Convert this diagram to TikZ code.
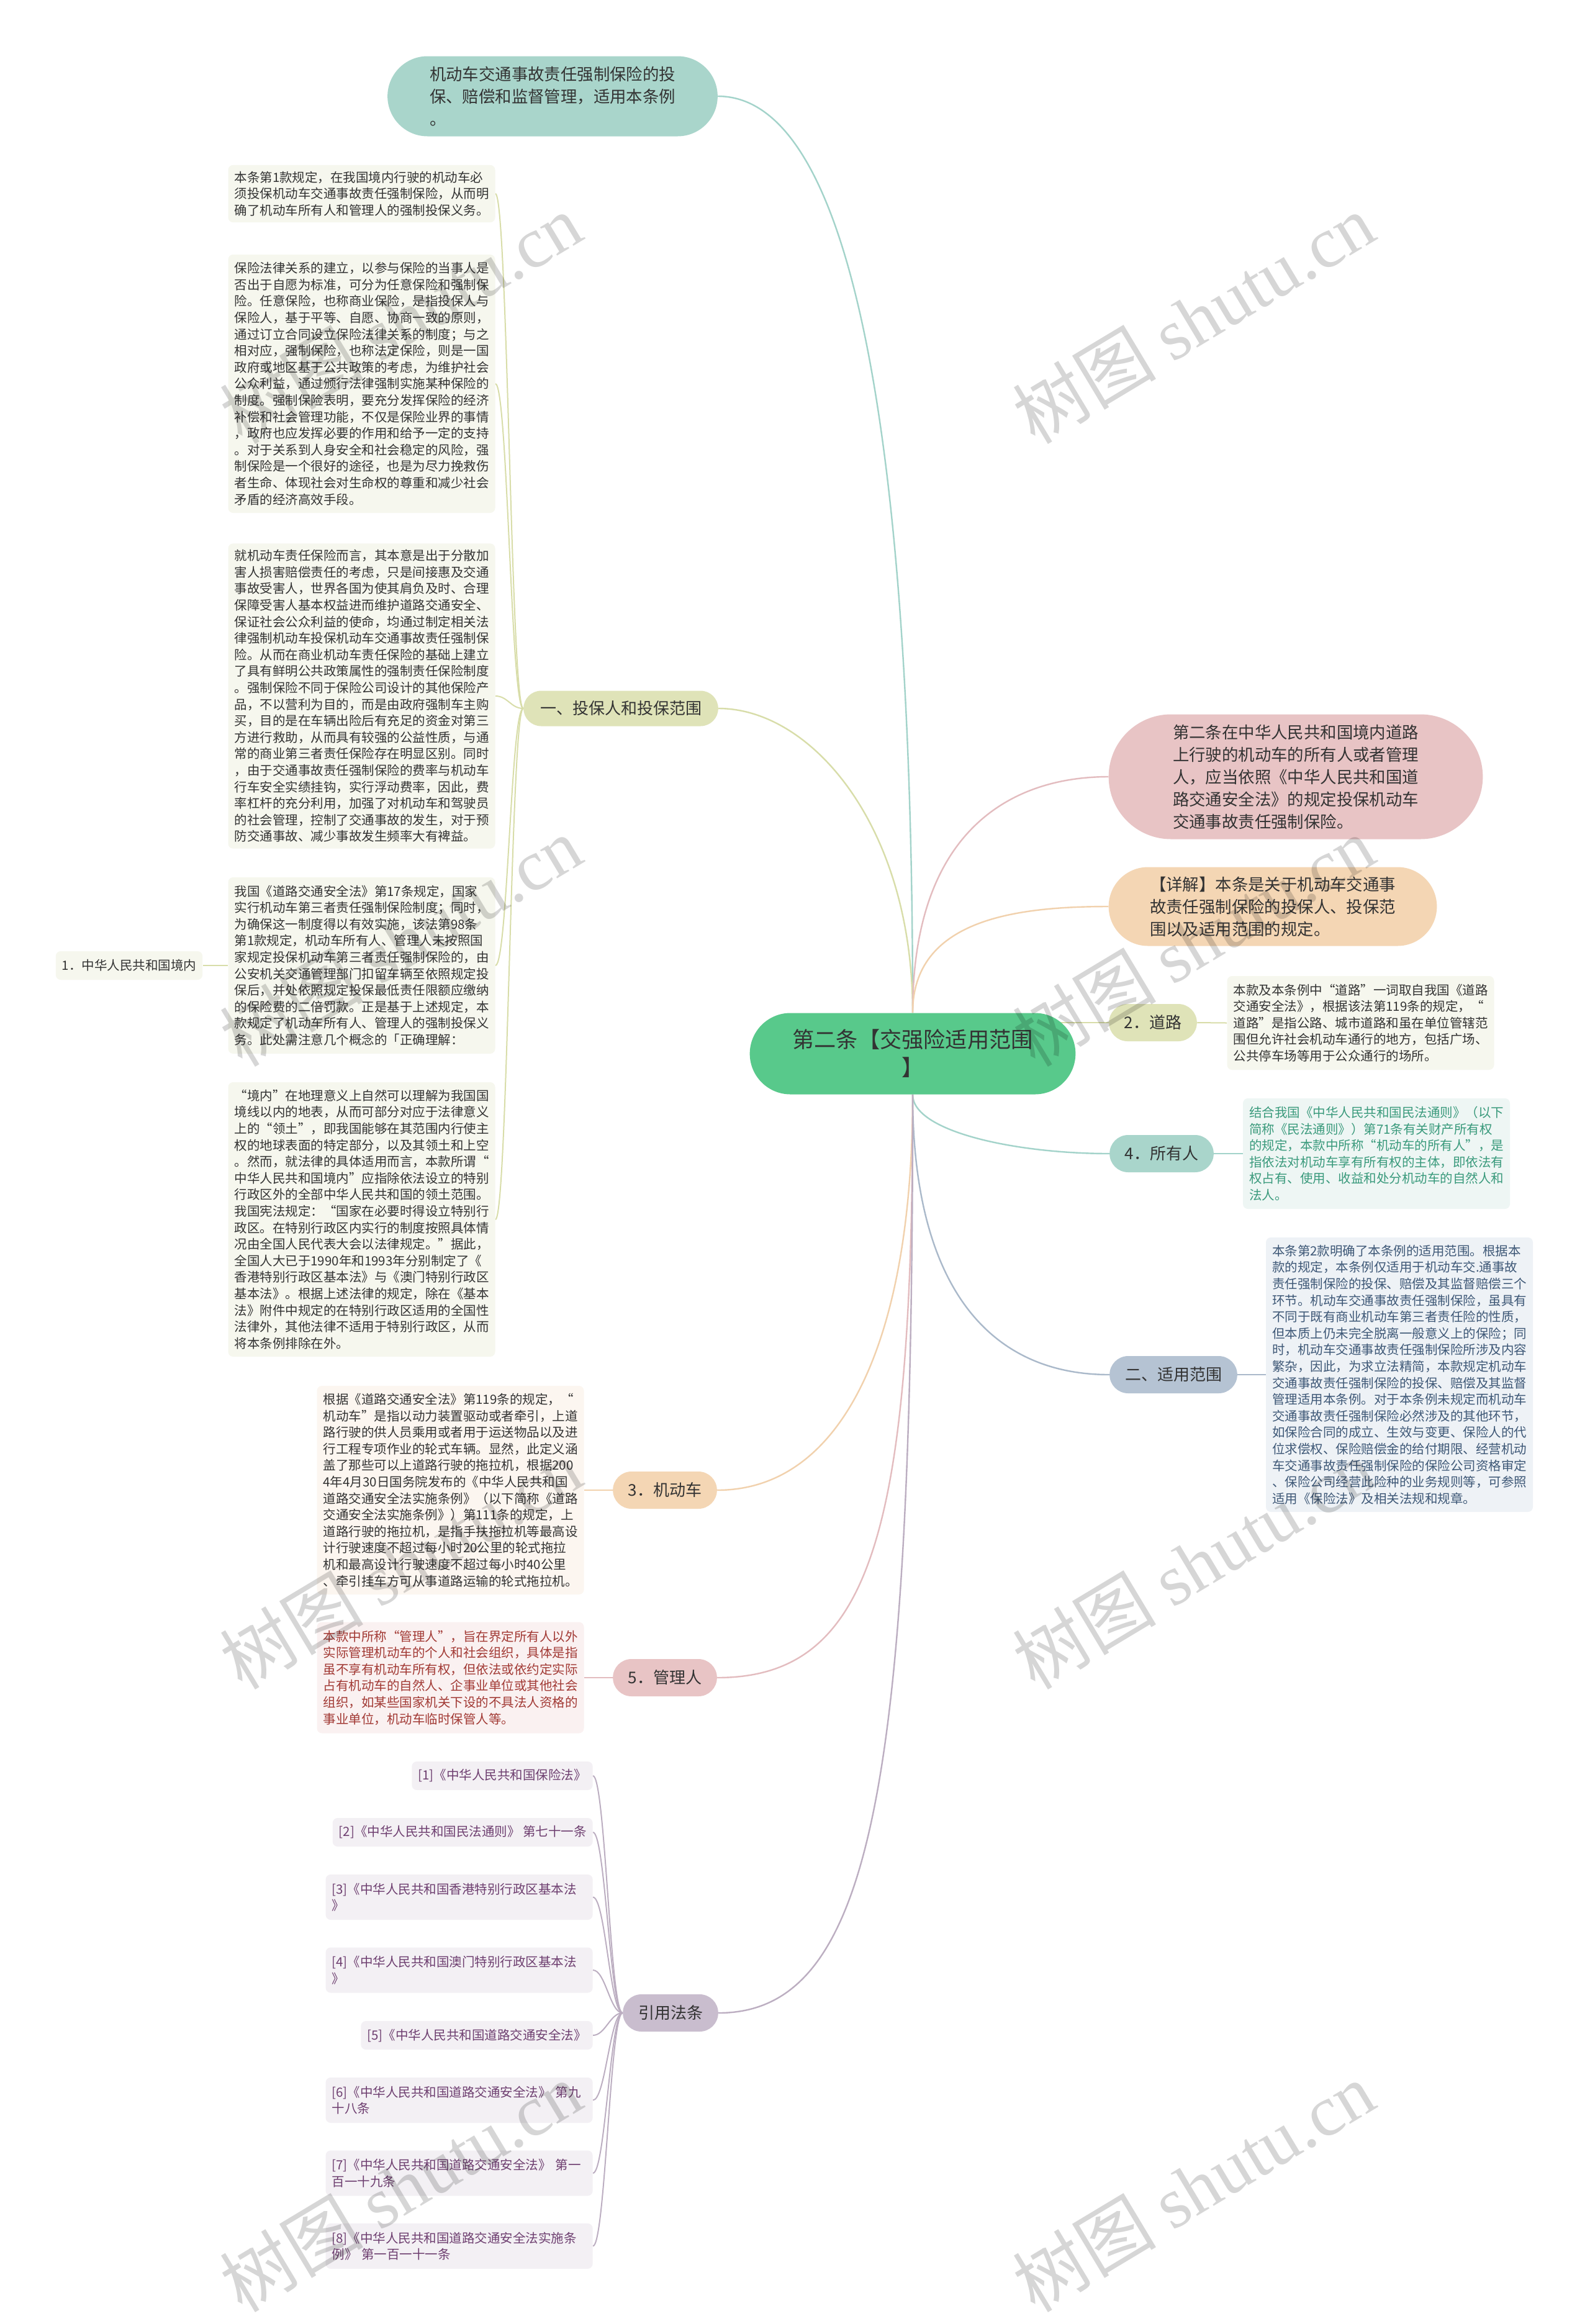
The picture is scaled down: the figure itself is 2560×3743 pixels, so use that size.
\documentclass[tikz,border=0pt]{standalone}
\usepackage{fontspec}
\usepackage{xcolor}
\usetikzlibrary{shapes.misc}
\setmainfont{Noto Sans CJK SC}
\newfontfamily\markfont{Liberation Serif}

\definecolor{rootfill}{HTML}{58C98B}
\definecolor{tealfill}{HTML}{A9D5CB}
\definecolor{olivefill}{HTML}{DFE3B8}
\definecolor{pinkfill}{HTML}{E8C4C5}
\definecolor{peachfill}{HTML}{F4D6B4}
\definecolor{slatefill}{HTML}{B5C3D3}
\definecolor{plumfill}{HTML}{C9BDCE}
\definecolor{olivenote}{HTML}{F6F7EE}
\definecolor{tealnote}{HTML}{EEF6F4}
\definecolor{slatenote}{HTML}{EEF2F6}
\definecolor{peachnote}{HTML}{FCF6F0}
\definecolor{pinknote}{HTML}{FAF1F1}
\definecolor{plumnote}{HTML}{F3F0F4}
\definecolor{tealtext}{HTML}{3A9A7C}
\definecolor{slatetext}{HTML}{3E5877}
\definecolor{pinktext}{HTML}{A23A35}
\definecolor{plumtext}{HTML}{6E3F70}
\definecolor{darktext}{HTML}{333333}
\definecolor{tealline}{HTML}{A3D3CA}
\definecolor{oliveline}{HTML}{D8DDA9}
\definecolor{pinkline}{HTML}{E3BCBF}
\definecolor{peachline}{HTML}{F1D1AD}
\definecolor{slateline}{HTML}{AAB9CA}
\definecolor{plumline}{HTML}{BCAEC1}

\pgfdeclarelayer{back}
\pgfsetlayers{back,main}

\tikzset{
    root-topic/.style = {rounded rectangle, fill=rootfill, text=darktext, align=center, font=\fontsize{17.6}{22.5}\selectfont, minimum width=269pt, minimum height=65.5pt},
    main-topic/.style = {rounded rectangle, text=darktext, align=left, font=\fontsize{13.2}{18}\selectfont},
    sub-topic/.style = {rounded rectangle, text=darktext, font=\fontsize{13}{16}\selectfont, minimum height=30pt},
    note-box/.style = {rectangle, rounded corners=4pt, text=darktext, align=left, inner xsep=5pt, inner ysep=5pt, font=\fontsize{10.25}{13.3}\selectfont},
    wide-note/.style = {note-box, text width=205pt},
    link-line/.style = {line width=1.2pt},
    twig-line/.style = {line width=1pt},
    water-mark/.style = {text=black, text opacity=0.16, rotate=31, font=\fontsize{58}{60}\selectfont},
}

\begin{document}
\begin{tikzpicture}[x=0.5pt, y=-0.5pt]
\useasboundingbox (0,0) rectangle (2560,3743);

\node[root-topic] (root) at (1470,1697) {第二条【交强险适用范围\\】};

\node[main-topic, fill=tealfill, minimum width=272.5pt, minimum height=64.5pt] (rule) at (890,155) {机动车交通事故责任强制保险的投\\
保、赔偿和监督管理，适用本条例\\
。};
\node[main-topic, fill=pinkfill, minimum width=308pt, minimum height=100.5pt] (article) at (2087,1251) {第二条在中华人民共和国境内道路\\
上行驶的机动车的所有人或者管理\\
人，应当依照《中华人民共和国道\\
路交通安全法》的规定投保机动车\\
交通事故责任强制保险。};
\node[main-topic, fill=peachfill, minimum width=271pt, minimum height=63.5pt] (detail) at (2050,1460) {【详解】本条是关于机动车交通事\\
故责任强制保险的投保人、投保范\\
围以及适用范围的规定。};

\node[sub-topic, fill=olivefill, minimum width=163.5pt, minimum height=28.5pt] (insure) at (1000,1141) {一、投保人和投保范围};
\node[sub-topic, fill=olivefill, minimum width=77.5pt] (road) at (1857,1647) {2．道路};
\node[sub-topic, fill=tealfill, minimum width=90.5pt] (owner) at (1871,1858) {4．所有人};
\node[sub-topic, fill=slatefill, minimum width=109.5pt] (scope) at (1890,2214) {二、适用范围};
\node[sub-topic, fill=peachfill, minimum width=90.5pt] (vehicle) at (1071,2400) {3．机动车};
\node[sub-topic, fill=pinkfill, minimum width=90.5pt] (keeper) at (1071,2702) {5．管理人};
\node[sub-topic, fill=plumfill, minimum width=83.5pt] (cite) at (1080,3242) {引用法条};

\node[wide-note, fill=olivenote, minimum height=46pt] (note-a) at (582.5,312) {本条第1款规定，在我国境内行驶的机动车必\\
须投保机动车交通事故责任强制保险，从而明\\
确了机动车所有人和管理人的强制投保义务。};
\node[wide-note, fill=olivenote, minimum height=208pt] (note-b) at (582.5,618) {保险法律关系的建立，以参与保险的当事人是\\
否出于自愿为标准，可分为任意保险和强制保\\
险。任意保险，也称商业保险，是指投保人与\\
保险人，基于平等、自愿、协商一致的原则，\\
通过订立合同设立保险法律关系的制度；与之\\
相对应，强制保险，也称法定保险，则是一国\\
政府或地区基于公共政策的考虑，为维护社会\\
公众利益，通过颁行法律强制实施某种保险的\\
制度。强制保险表明，要充分发挥保险的经济\\
补偿和社会管理功能，不仅是保险业界的事情\\
，政府也应发挥必要的作用和给予一定的支持\\
。对于关系到人身安全和社会稳定的风险，强\\
制保险是一个很好的途径，也是为尽力挽救伤\\
者生命、体现社会对生命权的尊重和减少社会\\
矛盾的经济高效手段。};
\node[wide-note, fill=olivenote, minimum height=245pt] (note-c) at (582.5,1121) {就机动车责任保险而言，其本意是出于分散加\\
害人损害赔偿责任的考虑，只是间接惠及交通\\
事故受害人，世界各国为使其肩负及时、合理\\
保障受害人基本权益进而维护道路交通安全、\\
保证社会公众利益的使命，均通过制定相关法\\
律强制机动车投保机动车交通事故责任强制保\\
险。从而在商业机动车责任保险的基础上建立\\
了具有鲜明公共政策属性的强制责任保险制度\\
。强制保险不同于保险公司设计的其他保险产\\
品，不以营利为目的，而是由政府强制车主购\\
买，目的是在车辆出险后有充足的资金对第三\\
方进行救助，从而具有较强的公益性质，与通\\
常的商业第三者责任保险存在明显区别。同时\\
，由于交通事故责任强制保险的费率与机动车\\
行车安全实绩挂钩，实行浮动费率，因此，费\\
率杠杆的充分利用，加强了对机动车和驾驶员\\
的社会管理，控制了交通事故的发生，对于预\\
防交通事故、减少事故发生频率大有裨益。};
\node[wide-note, fill=olivenote, minimum height=142pt] (note-d) at (582.5,1555) {我国《道路交通安全法》第17条规定，国家\\
实行机动车第三者责任强制保险制度；同时，\\
为确保这一制度得以有效实施，该法第98条\\
第1款规定，机动车所有人、管理人未按照国\\
家规定投保机动车第三者责任强制保险的，由\\
公安机关交通管理部门扣留车辆至依照规定投\\
保后，并处依照规定投保最低责任限额应缴纳\\
的保险费的二倍罚款。正是基于上述规定，本\\
款规定了机动车所有人、管理人的强制投保义\\
务。此处需注意几个概念的「正确理解：};
\node[wide-note, fill=olivenote, minimum height=221pt] (note-e) at (582.5,1964) {“境内”在地理意义上自然可以理解为我国国\\
境线以内的地表，从而可部分对应于法律意义\\
上的“领土”，即我国能够在其范围内行使主\\
权的地球表面的特定部分，以及其领土和上空\\
。然而，就法律的具体适用而言，本款所谓“\\
中华人民共和国境内”应指除依法设立的特别\\
行政区外的全部中华人民共和国的领土范围。\\
我国宪法规定：“国家在必要时得设立特别行\\
政区。在特别行政区内实行的制度按照具体情\\
况由全国人民代表大会以法律规定。”据此，\\
全国人大已于1990年和1993年分别制定了《\\
香港特别行政区基本法》与《澳门特别行政区\\
基本法》。根据上述法律的规定，除在《基本\\
法》附件中规定的在特别行政区适用的全国性\\
法律外，其他法律不适用于特别行政区，从而\\
将本条例排除在外。};
\node[note-box, fill=olivenote, minimum height=23pt] (inland) at (208,1555) {1．中华人民共和国境内};

\node[wide-note, fill=olivenote, minimum height=75.5pt] (road-note) at (2191.5,1647.5) {本款及本条例中“道路”一词取自我国《道路\\
交通安全法》，根据该法第119条的规定，“\\
道路”是指公路、城市道路和虽在单位管辖范\\
围但允许社会机动车通行的地方，包括广场、\\
公共停车场等用于公众通行的场所。};
\node[wide-note, fill=tealnote, text=tealtext, minimum height=89pt] (owner-note) at (2217,1858) {结合我国《中华人民共和国民法通则》（以下\\
简称《民法通则》）第71条有关财产所有权\\
的规定，本款中所称“机动车的所有人”，是\\
指依法对机动车享有所有权的主体，即依法有\\
权占有、使用、收益和处分机动车的自然人和\\
法人。};
\node[wide-note, fill=slatenote, text=slatetext, minimum height=221pt] (scope-note) at (2254,2214) {本条第2款明确了本条例的适用范围。根据本\\
款的规定，本条例仅适用于机动车交.通事故\\
责任强制保险的投保、赔偿及其监督赔偿三个\\
环节。机动车交通事故责任强制保险，虽具有\\
不同于既有商业机动车第三者责任险的性质，\\
但本质上仍未完全脱离一般意义上的保险；同\\
时，机动车交通事故责任强制保险所涉及内容\\
繁杂，因此，为求立法精简，本款规定机动车\\
交通事故责任强制保险的投保、赔偿及其监督\\
管理适用本条例。对于本条例未规定而机动车\\
交通事故责任强制保险必然涉及的其他环节，\\
如保险合同的成立、生效与变更、保险人的代\\
位求偿权、保险赔偿金的给付期限、经营机动\\
车交通事故责任强制保险的保险公司资格审定\\
、保险公司经营此险种的业务规则等，可参照\\
适用《保险法》及相关法规和规章。};
\node[wide-note, fill=peachnote, minimum height=168pt] (vehicle-note) at (725.5,2400) {根据《道路交通安全法》第119条的规定，“\\
机动车”是指以动力装置驱动或者牵引，上道\\
路行驶的供人员乘用或者用于运送物品以及进\\
行工程专项作业的轮式车辆。显然，此定义涵\\
盖了那些可以上道路行驶的拖拉机，根据200\\
4年4月30日国务院发布的《中华人民共和国\\
道路交通安全法实施条例》（以下简称《道路\\
交通安全法实施条例》）第111条的规定，上\\
道路行驶的拖拉机，是指手扶拖拉机等最高设\\
计行驶速度不超过每小时20公里的轮式拖拉\\
机和最高设计行驶速度不超过每小时40公里\\
、牵引挂车方可从事道路运输的轮式拖拉机。};
\node[wide-note, fill=pinknote, text=pinktext, minimum height=89.5pt] (keeper-note) at (725.5,2702) {本款中所称“管理人”，旨在界定所有人以外\\
实际管理机动车的个人和社会组织，具体是指\\
虽不享有机动车所有权，但依法或依约定实际\\
占有机动车的自然人、企事业单位或其他社会\\
组织，如某些国家机关下设的不具法人资格的\\
事业单位，机动车临时保管人等。};

\node[note-box, fill=plumnote, text=plumtext, anchor=east, minimum height=23pt] (ref-1) at (955,2860) {[1]《中华人民共和国保险法》};
\node[note-box, fill=plumnote, text=plumtext, anchor=east, minimum height=23pt] (ref-2) at (955,2951) {[2]《中华人民共和国民法通则》 第七十一条};
\node[wide-note, fill=plumnote, text=plumtext, anchor=east, minimum height=36.5pt] (ref-3) at (955,3055.5) {[3]《中华人民共和国香港特别行政区基本法\\
》};
\node[wide-note, fill=plumnote, text=plumtext, anchor=east, minimum height=36.5pt] (ref-4) at (955,3173) {[4]《中华人民共和国澳门特别行政区基本法\\
》};
\node[note-box, fill=plumnote, text=plumtext, anchor=east, minimum height=23pt] (ref-5) at (955,3278) {[5]《中华人民共和国道路交通安全法》};
\node[wide-note, fill=plumnote, text=plumtext, anchor=east, minimum height=36.5pt] (ref-6) at (955,3382.5) {[6]《中华人民共和国道路交通安全法》 第九\\
十八条};
\node[wide-note, fill=plumnote, text=plumtext, anchor=east, minimum height=36.5pt] (ref-7) at (955,3500) {[7]《中华人民共和国道路交通安全法》 第一\\
百一十九条};
\node[wide-note, fill=plumnote, text=plumtext, anchor=east, minimum height=36.5pt] (ref-8) at (955,3617.5) {[8]《中华人民共和国道路交通安全法实施条\\
例》 第一百一十一条};

\begin{pgfonlayer}{back}
\fill[white] (0,0) rectangle (2560,3743);
\draw[link-line, tealline] (root.north) .. controls +(0,-1000) and +(200,0) .. (rule.east);
\draw[link-line, oliveline] (root.north) .. controls +(0,-300) and +(150,0) .. (insure.east);
\draw[link-line, pinkline] (root.north) .. controls +(0,-300) and +(-150,0) .. (article.west);
\draw[link-line, peachline] (root.north) .. controls +(0,-150) and +(-150,0) .. (detail.west);
\draw[link-line, oliveline] (root.center |- road.west) -- (road.west);
\draw[link-line, tealline] (root.south) .. controls +(0,60) and +(-150,0) .. (owner.west);
\draw[link-line, slateline] (root.south) .. controls +(0,300) and +(-200,0) .. (scope.west);
\draw[link-line, peachline] (root.south) .. controls +(0,400) and +(200,0) .. (vehicle.east);
\draw[link-line, pinkline] (root.south) .. controls +(0,700) and +(250,0) .. (keeper.east);
\draw[link-line, plumline] (root.south) .. controls +(0,1100) and +(250,0) .. (cite.east);
\foreach \n in {note-a,note-b,note-c,note-d,note-e}
  \draw[twig-line, oliveline] (insure.west) .. controls +(-20,0) and +(20,0) .. (\n.east);
\draw[twig-line, oliveline] (note-d.west) -- (inland.east);
\draw[twig-line, oliveline] (road.east) -- (road-note.west);
\draw[twig-line, tealline] (owner.east) -- (owner-note.west);
\draw[twig-line, slateline] (scope.east) -- (scope-note.west);
\draw[twig-line, peachline] (vehicle.west) -- (vehicle-note.east);
\draw[twig-line, pinkline] (keeper.west) -- (keeper-note.east);
\foreach \i in {1,...,8}
  \draw[twig-line, plumline] (cite.west) .. controls +(-20,0) and +(20,0) .. (ref-\i.east);
\end{pgfonlayer}

\foreach \wx [count=\c] in {645,1922}
  \foreach \wy [count=\r] in {513,1516,2519,3522}
    \node[water-mark] (mark-\c-\r) at (\wx,\wy) {树图 {\markfont shutu.cn}};
\end{tikzpicture}
\end{document}
